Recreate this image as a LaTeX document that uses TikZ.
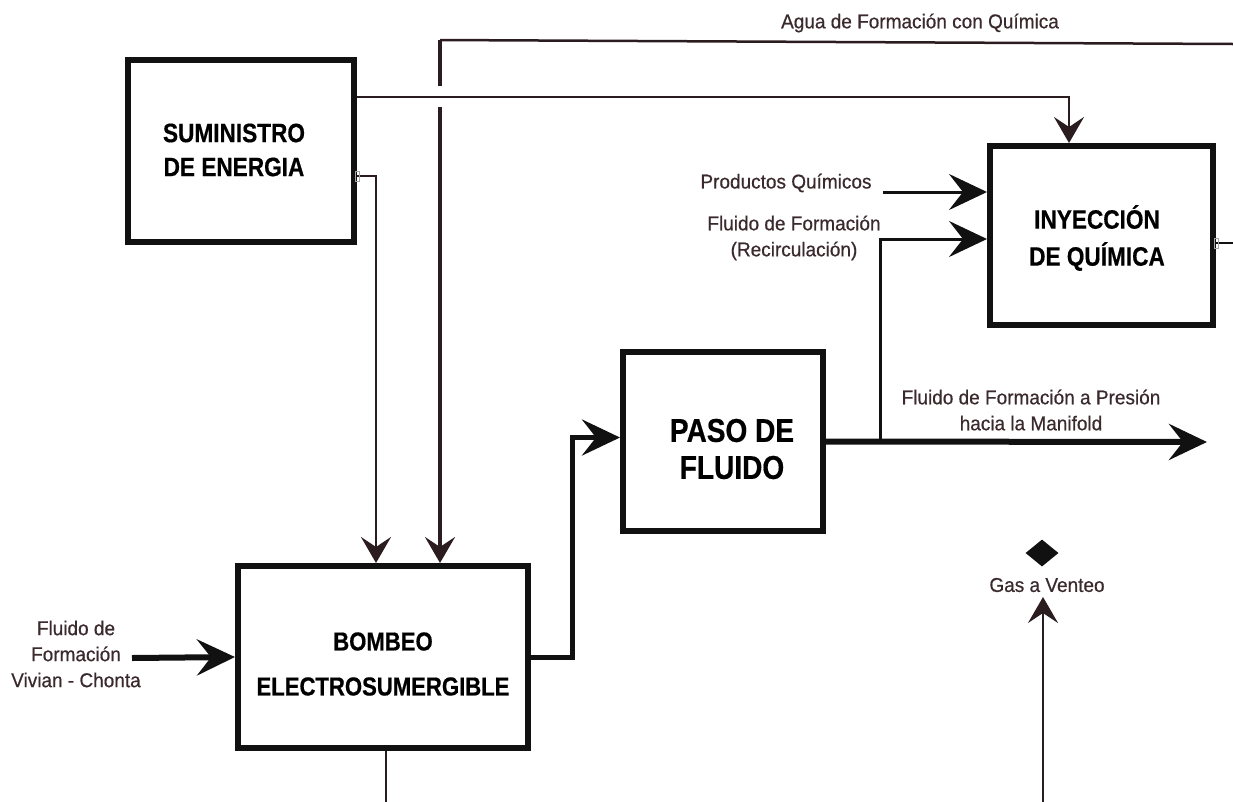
\documentclass[tikz,border=0pt]{standalone}
\usepackage{fontspec}
\setmainfont{Liberation Sans}
\newfontfamily\boxfont[FakeStretch=0.85,FakeBold=0.5]{Liberation Sans}
\newfontfamily\lblfont[FakeStretch=0.95,FakeBold=0.5]{Liberation Sans}
\usetikzlibrary{arrows.meta,shapes.geometric}

\definecolor{ink}{HTML}{111111}
\definecolor{wire}{HTML}{2B1C20}
\definecolor{labelc}{HTML}{3A2A2E}

\tikzset{
  blk/.style={draw=ink, line width=6pt, rectangle, inner sep=0pt, fill=white},
  boxtxt/.style={align=center, text=black, inner sep=0pt},
  lbl/.style={align=center, text=labelc, inner sep=1pt,
    font=\lblfont\fontsize{20}{26}\selectfont},
  bigtip/.style={-{Stealth[length=38pt,width=36pt,inset=14pt]}},
  smalltip/.style={-{Stealth[length=26pt,width=30pt,inset=10pt]}},
  flow/.style={draw=ink, line width=6pt},
  wirethin/.style={draw=wire, line width=2.5pt},
  port/.style={draw=black!35, line width=0.8pt},
}

\begin{document}
\begin{tikzpicture}[x=1pt,y=-1pt]
\useasboundingbox[fill=white] (0,0) rectangle (1233,801);

% ---- process blocks ----
\node[blk, minimum width=226pt, minimum height=182pt] (sum) at (241,151) {};
\node[boxtxt, font=\boxfont\bfseries\fontsize{26.6}{34}\selectfont] (sumtxt)
  at (234,150) {SUMINISTRO\\DE ENERGIA};

\node[blk, minimum width=223pt, minimum height=179pt] (iny) at (1101.5,235.5) {};
\node[boxtxt, font=\boxfont\bfseries\fontsize{26.6}{37}\selectfont] (inytxt)
  at (1097,238) {INYECCIÓN\\DE QUÍMICA};

\node[blk, minimum width=200pt, minimum height=179pt] (paso) at (723,441.5) {};
\node[boxtxt, font=\boxfont\bfseries\fontsize{33}{37}\selectfont] (pasotxt)
  at (732,449) {PASO DE\\FLUIDO};

\node[blk, minimum width=290pt, minimum height=182pt] (bomb) at (383,657) {};
\node[boxtxt, font=\boxfont\bfseries\fontsize{26}{45}\selectfont] (bombtxt)
  at (383,664) {BOMBEO\\ELECTROSUMERGIBLE};

% ---- labels ----
\node[lbl] (agua) at (920,23) {Agua de Formación con Química};
\node[lbl] (prod) at (786,183) {Productos Químicos};
\node[lbl] (recirc) at (794,238) {Fluido de Formación\\(Recirculación)};
\node[lbl] (mani) at (1031,410) {Fluido de Formación a Presión\\hacia la Manifold};
\node[lbl] (entrada) at (76,654) {Fluido de\\Formación\\Vivian - Chonta};
\node[lbl] (gas) at (1047,585) {Gas a Venteo};
\node[diamond, fill=ink, inner sep=0pt, minimum width=33pt, minimum height=27pt]
  (gasmark) at (1042,553) {};

% ---- free ends of the connectors ----
\coordinate (aguaR) at (1233,44);
\coordinate (aguaC) at (440,40);
\coordinate (prodS) at (883,192);
\coordinate (inS) at (132,658);
\coordinate (split) at (880,442);
\coordinate (maniE) at (1207,442);
\coordinate (inyOut) at (1233,243);
\coordinate (ventTip) at (1043,597);
\coordinate (botL) at (386,806);

% ---- connectors ----
% formation water with chemical, returning to the pump (line hop at the crossing)
\draw[wirethin] (aguaR) -- (aguaC);
\draw[draw=wire, line width=3.5pt, smalltip] (aguaC) -- (440,86)
  (440,107) -- (aguaC |- bomb.north);

% power supply feeds
\draw[wirethin, smalltip] ([yshift=54pt]sum.east) -| ([xshift=-32.5pt]iny.north);
\draw[draw=wire, line width=2.8pt, smalltip] ([yshift=-25pt]sum.east) -| ([xshift=-7pt]bomb.north);
\draw[port] (355,171) rectangle (359,181);

% chemical inputs
\draw[draw=ink, line width=3pt, bigtip] (prodS) -- ([yshift=43.5pt]iny.west);
\draw[draw=ink, line width=3pt, bigtip] (split) |- ([yshift=-3.5pt]iny.west);

% chemical injection outlet
\draw[draw=ink, line width=2pt] ([yshift=-7.5pt]iny.east) -- (inyOut);
\draw[port] (1214,238) rectangle (1218,248);

% main fluid path
\draw[flow, bigtip] (inS) -- (bomb.west);
\draw[draw=ink, line width=5pt, bigtip, line join=miter]
  (bomb.east) -- ++(41,0) |- ([yshift=4pt]paso.west);
\draw[flow, bigtip] (paso.east) -- (maniE);

% gas vent line (its run along the bottom lies below the page edge)
\draw[draw=wire, line width=2.5pt, smalltip] ([xshift=3pt]bomb.south) -- (botL) -| (ventTip);
\end{tikzpicture}
\end{document}
